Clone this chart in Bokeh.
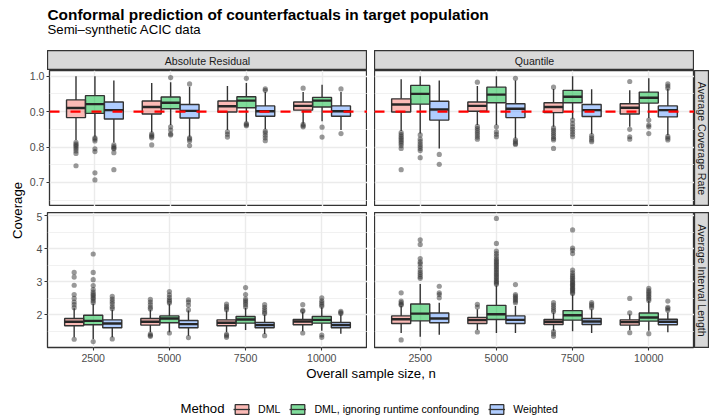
import math
from bokeh.plotting import figure
from bokeh.models import (ColumnDataSource, FactorRange, Range1d, FixedTicker, Span, Label,
                          Legend, LegendItem, PrintfTickFormatter, Spacer)
from bokeh.transform import dodge
from bokeh.layouts import row, column
from bokeh.embed import file_html
from bokeh.resources import INLINE

FONT = "Liberation Sans"

TITLE = "Conformal prediction of counterfactuals in target population"
SUBTITLE = "Semi\u2013synthetic ACIC data"
X_TITLE = "Overall sample size, n"
Y_TITLE = "Coverage"
LEGEND_TITLE = "Method"

N_LEVELS = ["2500", "5000", "7500", "10000"]
METHODS = ["DML", "DML, ignoring runtime confounding", "Weighted"]
METHOD_COLORS = ["#F8766D", "#00BA38", "#619CFF"]
SCORES = ["Absolute Residual", "Quantile"]
METRICS = ["Average Coverage Rate", "Average Interval Length"]
TARGET_COVERAGE = 0.9

COV_TICKS = [0.7, 0.8, 0.9, 1.0]
COV_MINOR = [0.65, 0.75, 0.85, 0.95]
LEN_TICKS = [2, 3, 4, 5]
LEN_MINOR = [1.5, 2.5, 3.5, 4.5]

# box statistics per n: (lower whisker, q1, median, q3, upper whisker)
# ---- Absolute Residual, coverage
ar_cov_dml = [(0.820, 0.883, 0.910, 0.933, 1.000), (0.841, 0.893, 0.913, 0.930, 0.981),
              (0.848, 0.899, 0.915, 0.930, 0.972), (0.866, 0.904, 0.916, 0.927, 0.955)]
ar_cov_dml_out = [[0.813, 0.808, 0.804, 0.800, 0.795, 0.789, 0.782, 0.747],
                  [0.837, 0.833, 0.829, 0.826, 0.806],
                  [0.843, 0.836, 0.828],
                  [0.966, 0.864, 0.860, 0.857]]
ar_cov_ign = [(0.829, 0.895, 0.921, 0.945, 1.000), (0.862, 0.908, 0.925, 0.941, 0.983),
              (0.871, 0.911, 0.931, 0.942, 0.981), (0.873, 0.913, 0.931, 0.940, 0.976)]
ar_cov_ign_out = [[0.826, 0.822, 0.817, 0.795, 0.787, 0.727, 0.707],
                  [0.996, 0.857, 0.848, 0.837, 0.834],
                  [0.994, 0.866, 0.863, 0.860],
                  [0.856, 0.828]]
ar_cov_wtd = [(0.813, 0.879, 0.904, 0.927, 0.988), (0.829, 0.882, 0.902, 0.920, 0.970),
              (0.850, 0.887, 0.901, 0.916, 0.955), (0.848, 0.887, 0.901, 0.916, 0.955)]
ar_cov_wtd_out = [[0.806, 0.801, 0.797, 0.795, 0.784, 0.736],
                  [0.978, 0.826, 0.822, 0.817, 0.804],
                  [0.964, 0.960, 0.845, 0.840, 0.833, 0.826, 0.818],
                  [0.964, 0.838]]

# ---- Quantile, coverage
q_cov_dml = [(0.845, 0.899, 0.920, 0.936, 0.991), (0.862, 0.901, 0.916, 0.927, 0.972),
             (0.857, 0.897, 0.913, 0.925, 0.964), (0.857, 0.893, 0.911, 0.922, 0.960)]
q_cov_dml_out = [[0.841, 0.835, 0.830, 0.825, 0.820, 0.815, 0.810, 0.804, 0.796, 0.736],
                 [0.983, 0.858, 0.852, 0.846, 0.840, 0.834, 0.828, 0.822],
                 [0.969, 0.854, 0.848, 0.842, 0.836, 0.830, 0.824, 0.820, 0.796],
                 [0.985, 0.850, 0.829, 0.822]]
q_cov_ign = [(0.838, 0.921, 0.950, 0.974, 1.000), (0.862, 0.925, 0.948, 0.969, 1.000),
             (0.880, 0.925, 0.942, 0.960, 1.000), (0.882, 0.924, 0.939, 0.955, 0.994)]
q_cov_ign_out = [[0.834, 0.822, 0.815, 0.808, 0.802, 0.796, 0.790, 0.770],
                 [0.857, 0.843, 0.836, 0.829],
                 [0.876, 0.866, 0.857, 0.850, 0.843, 0.836, 0.829],
                 [0.876, 0.862, 0.857, 0.838]]
q_cov_wtd = [(0.796, 0.876, 0.906, 0.929, 0.988), (0.824, 0.883, 0.908, 0.922, 0.988),
             (0.836, 0.886, 0.904, 0.920, 0.963), (0.834, 0.885, 0.904, 0.916, 0.964)]
q_cov_wtd_out = [[0.779, 0.751],
                 [0.994, 0.820, 0.815, 0.810, 0.807],
                 [0.832, 0.826, 0.820, 0.815],
                 [0.978, 0.972, 0.966, 0.830, 0.825, 0.820]]

# ---- Absolute Residual, interval length
ar_len_dml = [(1.31, 1.66, 1.78, 1.88, 2.19), (1.46, 1.68, 1.78, 1.88, 2.14),
              (1.46, 1.66, 1.75, 1.84, 2.12), (1.49, 1.69, 1.79, 1.85, 2.08)]
ar_len_dml_out = [[2.21, 2.30, 2.38, 2.49, 2.61, 2.89, 3.14, 3.28, 1.25],
                  [2.17, 2.22, 2.30, 2.38, 2.46, 1.41, 1.37, 1.34],
                  [2.15, 2.20, 2.25, 2.32, 1.40, 1.36, 1.31],
                  [2.10, 2.13, 2.30, 1.44]]
ar_len_ign = [(1.26, 1.69, 1.81, 1.98, 2.33), (1.46, 1.75, 1.88, 1.96, 2.32),
              (1.53, 1.74, 1.85, 1.94, 2.20), (1.51, 1.74, 1.84, 1.94, 2.22)]
ar_len_ign_out = [[2.36, 2.42, 2.48, 2.52, 2.58, 2.62, 2.68, 2.76, 2.88, 3.06, 3.28, 3.84, 1.18],
                  [2.35, 2.40, 2.45, 2.52, 2.60, 2.70, 1.44],
                  [2.23, 2.30, 2.36, 2.42, 2.47, 2.61, 2.82],
                  [2.25, 2.30, 2.36, 2.42, 2.51, 1.38, 1.31]]
ar_len_wtd = [(1.31, 1.60, 1.73, 1.84, 2.15), (1.36, 1.60, 1.71, 1.82, 2.12),
              (1.41, 1.60, 1.68, 1.76, 2.00), (1.42, 1.60, 1.68, 1.76, 2.00)]
ar_len_wtd_out = [[2.18, 2.24, 2.33, 2.40, 2.47, 2.55, 1.26],
                  [2.14, 2.28, 2.38, 2.45, 1.30],
                  [2.03, 2.08, 2.15, 2.22, 2.30, 1.36],
                  [2.03, 2.06, 2.10]]

# ---- Quantile, interval length
q_len_dml = [(1.44, 1.73, 1.86, 1.96, 2.26), (1.53, 1.73, 1.83, 1.91, 2.16),
             (1.51, 1.70, 1.78, 1.85, 2.06), (1.53, 1.68, 1.77, 1.84, 2.01)]
q_len_dml_out = [[2.29, 2.31, 2.36, 2.41, 2.66, 1.23],
                 [2.23, 2.31, 1.47],
                 [2.09, 2.15, 2.22, 2.29, 2.36, 1.48, 1.41, 1.34],
                 [2.05, 2.49, 1.45]]
q_len_ign = [(1.33, 1.81, 2.03, 2.32, 2.93), (1.44, 1.85, 2.01, 2.28, 2.88),
             (1.49, 1.83, 1.98, 2.12, 2.61), (1.51, 1.80, 1.91, 2.05, 2.41)]
q_len_ign_out = [[3.10, 3.15, 3.22, 3.28, 3.35, 3.45, 3.55, 3.60, 3.70, 4.13, 4.27],
                 [2.92, 2.96, 3.00, 3.05, 3.10, 3.15, 3.20, 3.25, 3.30, 3.35, 3.40, 3.45, 3.50,
                  3.55, 3.60, 3.65, 3.70, 3.78, 3.85, 3.93, 4.16, 4.92],
                 [2.64, 2.68, 2.72, 2.76, 2.80, 2.84, 2.88, 2.92, 2.96, 3.00, 3.05, 3.10, 3.15,
                  3.20, 3.27, 3.35, 3.85, 3.95, 4.02, 4.57],
                 [2.43, 2.48, 2.53, 2.58, 2.63, 2.68, 2.73, 2.80, 1.42]]
q_len_wtd = [(1.39, 1.75, 1.88, 2.05, 2.36), (1.44, 1.73, 1.84, 1.96, 2.26),
             (1.44, 1.70, 1.79, 1.88, 2.16), (1.46, 1.69, 1.78, 1.86, 2.06)]
q_len_wtd_out = [[2.51, 2.61, 2.66, 2.86],
                 [2.36, 2.41, 2.46, 2.51, 2.56, 2.61, 2.91],
                 [2.21, 2.26, 2.31, 2.36],
                 [2.13, 2.18, 2.22, 2.41]]

DODGE = [-0.25, 0.0, 0.25]
BOX_W = 0.25
LINE_C = "#333333"


def stats_source(stats):
    return ColumnDataSource(data=dict(
        n=N_LEVELS,
        lo=[s[0] for s in stats], q1=[s[1] for s in stats], med=[s[2] for s in stats],
        q3=[s[3] for s in stats], hi=[s[4] for s in stats]))


def blank(width, height, xr, yr, bg="white"):
    f = figure(width=width, height=height, x_range=Range1d(*xr), y_range=Range1d(*yr),
               output_backend="svg", toolbar_location=None, min_border=0)
    f.axis.visible = False
    f.grid.visible = False
    f.outline_line_color = None
    f.background_fill_color = bg
    f.border_fill_color = bg
    return f


def strip(text, width, height, vertical=False):
    s = blank(width, height, (0, 1), (0, 1), bg="#D9D9D9")
    s.outline_line_color = LINE_C
    s.outline_line_width = 1.3
    s.add_layout(Label(x=0.5, y=0.5, text=text, text_align="center", text_baseline="middle",
                       angle=(-math.pi / 2 if vertical else 0), text_font=FONT,
                       text_font_size="10.6px", text_color="#1A1A1A"))
    return s


def panel(boxes, outs, y_lo, y_hi, ticks, minor, fmt, show_x, show_y, target=None):
    p = figure(width=341 if show_y else 320, height=152 if show_x else 136,
               x_range=FactorRange(*N_LEVELS, range_padding=0.1, range_padding_units="absolute"),
               y_range=Range1d(y_lo, y_hi), output_backend="svg", toolbar_location=None,
               min_border=0)
    p.min_border_left = 21 if show_y else 0
    p.min_border_bottom = 16 if show_x else 0
    p.outline_line_color = LINE_C
    p.outline_line_width = 1.3
    p.background_fill_color = "white"

    p.xgrid.grid_line_color = "#EBEBEB"
    p.xgrid.grid_line_width = 1.4
    p.ygrid.ticker = FixedTicker(ticks=ticks, minor_ticks=minor)
    p.ygrid.grid_line_color = "#EBEBEB"
    p.ygrid.grid_line_width = 1.4
    p.ygrid.minor_grid_line_color = "#EBEBEB"
    p.ygrid.minor_grid_line_width = 0.7

    for ax in (p.xaxis, p.yaxis):
        ax.axis_line_color = None
        ax.major_tick_line_color = LINE_C
        ax.major_tick_line_width = 1.1
        ax.major_tick_out = 3
        ax.major_tick_in = 0
        ax.minor_tick_line_color = None
        ax.major_label_text_font = FONT
        ax.major_label_text_font_size = "10.6px"
        ax.major_label_text_color = "#4D4D4D"
    p.yaxis.ticker = FixedTicker(ticks=ticks)
    p.yaxis.formatter = PrintfTickFormatter(format=fmt)
    p.yaxis.major_label_standoff = 2
    p.xaxis.major_label_standoff = 3
    p.xaxis.visible = show_x
    p.yaxis.visible = show_y

    for (stats, out), off, col in zip(zip(boxes, outs), DODGE, METHOD_COLORS):
        src = stats_source(stats)
        osrc = ColumnDataSource(data=dict(
            n=[N_LEVELS[i] for i, vals in enumerate(out) for _ in vals],
            y=[v for vals in out for v in vals]))
        xc = dodge("n", off, range=p.x_range)
        p.scatter(x=xc, y="y", source=osrc, size=5.2, fill_color=LINE_C, fill_alpha=0.5,
                  line_color=None)
        p.segment(x0=xc, y0="q3", x1=xc, y1="hi", source=src, line_color=LINE_C, line_width=1.4)
        p.segment(x0=xc, y0="q1", x1=xc, y1="lo", source=src, line_color=LINE_C, line_width=1.4)
        p.vbar(x=xc, width=BOX_W, top="q3", bottom="q1", source=src, fill_color=col,
               fill_alpha=0.5, line_color=LINE_C, line_width=1.4)
        p.segment(x0=dodge("n", off - BOX_W / 2, range=p.x_range), y0="med",
                  x1=dodge("n", off + BOX_W / 2, range=p.x_range), y1="med", source=src,
                  line_color="#262626", line_width=2.4)
    if target is not None:
        p.add_layout(Span(location=target, dimension="width", line_color="red",
                          line_width=2.3, line_dash="10 11"))
    return p


pTL = panel([ar_cov_dml, ar_cov_ign, ar_cov_wtd], [ar_cov_dml_out, ar_cov_ign_out, ar_cov_wtd_out],
            0.632, 1.016, COV_TICKS, COV_MINOR, "%.1f", False, True, TARGET_COVERAGE)
pTR = panel([q_cov_dml, q_cov_ign, q_cov_wtd], [q_cov_dml_out, q_cov_ign_out, q_cov_wtd_out],
            0.632, 1.016, COV_TICKS, COV_MINOR, "%.1f", False, False, TARGET_COVERAGE)
pBL = panel([ar_len_dml, ar_len_ign, ar_len_wtd], [ar_len_dml_out, ar_len_ign_out, ar_len_wtd_out],
            1.0, 5.1, LEN_TICKS, LEN_MINOR, "%d", True, True)
pBR = panel([q_len_dml, q_len_ign, q_len_wtd], [q_len_dml_out, q_len_ign_out, q_len_wtd_out],
            1.0, 5.1, LEN_TICKS, LEN_MINOR, "%d", True, False)

# title block
tfig = blank(709, 50, (0, 709), (0, 50))
tfig.add_layout(Label(x=47, y=36.2, text=TITLE, text_baseline="middle", text_font=FONT,
                      text_font_size="15.4px", text_font_style="bold", text_color="black"))
tfig.add_layout(Label(x=47, y=21.3, text=SUBTITLE, text_baseline="middle", text_font=FONT,
                      text_font_size="13.2px", text_color="black"))

# y axis title
yfig = blank(26, 314, (0, 26), (0, 314))
yfig.add_layout(Label(x=16.5, y=154, text=Y_TITLE, text_align="center", text_baseline="middle",
                      angle=math.pi / 2, text_font=FONT, text_font_size="13.2px",
                      text_color="black"))

# bottom: x title + legend
bfig = blank(709, 51, (0, 709), (0, 51))
bfig.add_layout(Label(x=370.5, y=42, text=X_TITLE, text_align="center",
                      text_baseline="middle", text_font=FONT, text_font_size="13.2px",
                      text_color="black"))
bfig.add_layout(Label(x=180, y=7, text=LEGEND_TITLE, text_align="left", text_baseline="middle",
                      text_font=FONT, text_font_size="13.2px", text_color="black"))
items = []
for m, c, stats in zip(METHODS, METHOD_COLORS, [ar_len_dml, ar_len_ign, ar_len_wtd]):
    ksrc = stats_source(stats)
    rb = bfig.vbar(x="med", top="q3", bottom="q1", width=0.1, source=ksrc, fill_color=c,
                   fill_alpha=0.5, line_color=LINE_C, line_width=1.3, visible=False)
    rm = bfig.segment(x0="q1", y0="med", x1="q3", y1="med", source=ksrc, line_color=LINE_C,
                      line_width=1.3, visible=False)
    items.append(LegendItem(label=m, renderers=[rb, rm]))
legend = Legend(items=items, orientation="horizontal", location=(233, 0), padding=0, margin=0,
                spacing=9, glyph_width=17, glyph_height=12, label_height=12,
                label_standoff=8, label_text_font=FONT, label_text_font_size="10.6px",
                label_text_color="black", border_line_color=None, background_fill_alpha=0,
                inactive_fill_alpha=0)
bfig.add_layout(legend)

top_strips = row(Spacer(width=21, height=20), strip(SCORES[0], 320, 20),
                 Spacer(width=7, height=20), strip(SCORES[1], 320, 20),
                 Spacer(width=15, height=20))
top_row = row(pTL, Spacer(width=7, height=136), pTR, strip(METRICS[0], 15, 136, True))
bot_row = row(pBL, Spacer(width=7, height=152), pBR,
              column(strip(METRICS[1], 15, 136, True), Spacer(width=15, height=16)))
middle = row(yfig, column(top_strips, top_row, Spacer(width=683, height=6), bot_row))
layout = column(tfig, middle, bfig)

open("out.html", "w").write(file_html(layout, INLINE))
